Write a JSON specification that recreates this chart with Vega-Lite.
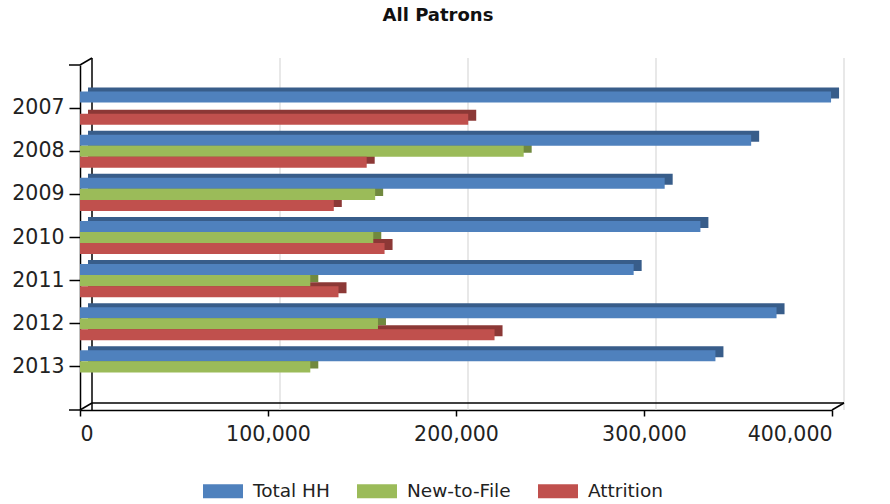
{
  "$schema": "https://vega.github.io/schema/vega-lite/v6.json",
  "width": 752,
  "height": 345,
  "autosize": "none",
  "padding": {"left": 80, "top": 65, "right": 58, "bottom": 94},
  "background": "white",
  "title": {
    "text": "All Patrons",
    "font": "DejaVu Sans",
    "fontSize": 18,
    "fontWeight": "bold",
    "color": "#111111",
    "anchor": "middle",
    "offset": 32,
    "dx": -18
  },
  "config": {
    "view": {"stroke": null},
    "font": "DejaVu Sans",
    "axis": {
      "grid": false,
      "domainColor": "#000000",
      "domainWidth": 1.5,
      "tickColor": "#000000",
      "tickWidth": 1.5,
      "labelFont": "DejaVu Sans",
      "labelFontSize": 20.5,
      "labelColor": "#222222"
    },
    "legend": {"columnPadding": 27}
  },
  "datasets": {
    "patrons": [
      {"year": "2007", "series": "Total HH", "value": 399500},
      {"year": "2007", "series": "Attrition", "value": 206500},
      {"year": "2008", "series": "Total HH", "value": 357000},
      {"year": "2008", "series": "New-to-File", "value": 236000},
      {"year": "2008", "series": "Attrition", "value": 152500},
      {"year": "2009", "series": "Total HH", "value": 311000},
      {"year": "2009", "series": "New-to-File", "value": 157000},
      {"year": "2009", "series": "Attrition", "value": 135000},
      {"year": "2010", "series": "Total HH", "value": 330000},
      {"year": "2010", "series": "New-to-File", "value": 156000},
      {"year": "2010", "series": "Attrition", "value": 162000},
      {"year": "2011", "series": "Total HH", "value": 294500},
      {"year": "2011", "series": "New-to-File", "value": 122500},
      {"year": "2011", "series": "Attrition", "value": 137500},
      {"year": "2012", "series": "Total HH", "value": 370500},
      {"year": "2012", "series": "New-to-File", "value": 158500},
      {"year": "2012", "series": "Attrition", "value": 220500},
      {"year": "2013", "series": "Total HH", "value": 338000},
      {"year": "2013", "series": "New-to-File", "value": 122500}
    ],
    "gridTicks": [
      {"value": 100000},
      {"value": 200000},
      {"value": 300000},
      {"value": 400000}
    ],
    "bottomCorners": [
      {"value": 0},
      {"value": 400000}
    ]
  },
  "layer": [
    {
      "description": "Gridlines on the back wall of the 3-D box",
      "data": {"name": "gridTicks"},
      "mark": {"type": "rule", "color": "#d9d9d9", "strokeWidth": 1.2, "xOffset": 12, "yOffset": -7, "y2Offset": -7},
      "encoding": {
        "x": {
          "field": "value",
          "type": "quantitative",
          "title": null,
          "scale": {"domain": [0, 400000], "nice": false},
          "axis": {"tickCount": 4, "format": ",.0f", "tickSize": 6, "labelPadding": 8}
        }
      }
    },
    {
      "description": "Left edge of the back wall",
      "data": {"values": [{"value": 0}]},
      "mark": {"type": "rule", "color": "#000000", "strokeWidth": 1.5, "xOffset": 12, "yOffset": -7, "y2Offset": -7},
      "encoding": {
        "x": {"field": "value", "type": "quantitative", "title": null}
      }
    },
    {
      "description": "Bottom edge of the back wall",
      "data": {"values": [{"value": 0, "end": 400000}]},
      "mark": {"type": "rule", "color": "#000000", "strokeWidth": 1.5, "xOffset": 12, "x2Offset": 12, "yOffset": -7},
      "encoding": {
        "x": {"field": "value", "type": "quantitative", "title": null},
        "x2": {"field": "end"},
        "y": {"value": "height"}
      }
    },
    {
      "description": "Depth edges joining the front and back bottom corners",
      "data": {"name": "bottomCorners"},
      "mark": {"type": "rule", "color": "#000000", "strokeWidth": 1.5, "x2Offset": 12, "y2Offset": -7},
      "encoding": {
        "x": {"field": "value", "type": "quantitative", "title": null},
        "x2": {"field": "value"},
        "y": {"value": "height"},
        "y2": {"value": "height"}
      }
    },
    {
      "description": "Depth edge at the top left corner",
      "data": {"values": [{"value": 0}]},
      "mark": {"type": "rule", "color": "#000000", "strokeWidth": 1.5, "x2Offset": 12, "y2Offset": -7},
      "encoding": {
        "x": {"field": "value", "type": "quantitative", "title": null},
        "x2": {"field": "value"},
        "y": {"value": 0},
        "y2": {"value": 0}
      }
    },
    {
      "description": "End tick at the top of the category axis",
      "data": {"values": [{"value": 0}]},
      "mark": {"type": "rule", "color": "#000000", "strokeWidth": 1.5, "xOffset": -11},
      "encoding": {
        "x": {"field": "value", "type": "quantitative", "title": null},
        "x2": {"field": "value"},
        "y": {"value": 0}
      }
    },
    {
      "description": "End tick at the bottom of the category axis",
      "data": {"values": [{"value": 0}]},
      "mark": {"type": "rule", "color": "#000000", "strokeWidth": 1.5, "xOffset": -11},
      "encoding": {
        "x": {"field": "value", "type": "quantitative", "title": null},
        "x2": {"field": "value"},
        "y": {"value": "height"}
      }
    },
    {
      "description": "Darker extrusion behind each bar (top and end faces), lifted by its own offset scale",
      "data": {"name": "patrons"},
      "mark": {"type": "bar", "xOffset": 8, "x2Offset": 8},
      "encoding": {
        "y": {"field": "year", "type": "nominal", "title": null, "scale": {"paddingInner": 0.23, "paddingOuter": 0.615}},
        "yOffset": {
          "field": "series",
          "type": "nominal",
          "scale": {"domain": ["Total HH", "New-to-File", "Attrition"], "range": [-4, 29.2], "paddingInner": 0, "paddingOuter": 0}
        },
        "x": {"field": "value", "type": "quantitative", "title": null},
        "color": {
          "field": "series",
          "type": "nominal",
          "scale": {"domain": ["Total HH", "New-to-File", "Attrition"], "range": ["#385d8a", "#71893f", "#8c3836"]},
          "legend": null
        }
      }
    },
    {
      "description": "Front faces of the bars",
      "data": {"name": "patrons"},
      "mark": {"type": "bar"},
      "encoding": {
        "y": {
          "field": "year",
          "type": "nominal",
          "title": null,
          "axis": {"tickSize": 11, "labelPadding": 5}
        },
        "yOffset": {
          "field": "series",
          "type": "nominal",
          "scale": {"domain": ["Total HH", "New-to-File", "Attrition"], "paddingInner": 0, "paddingOuter": 0}
        },
        "x": {"field": "value", "type": "quantitative", "title": null},
        "color": {
          "field": "series",
          "type": "nominal",
          "scale": {"domain": ["Total HH", "New-to-File", "Attrition"], "range": ["#4f81bd", "#9bbb59", "#c0504d"]},
          "legend": {
            "orient": "none",
            "legendX": 123,
            "legendY": 406,
            "direction": "horizontal",
            "title": null,
            "padding": 0,
            "symbolType": "M-1,-0.35H1V0.35H-1Z",
            "symbolSize": 1600,
            "symbolStrokeWidth": 0,
            "symbolOpacity": 1,
            "labelFont": "DejaVu Sans",
            "labelFontSize": 18.5,
            "labelColor": "#222222",
            "labelOffset": 10,
            "columnPadding": 27
          }
        }
      }
    }
  ],
  "resolve": {"scale": {"color": "independent", "yOffset": "independent"}}
}
